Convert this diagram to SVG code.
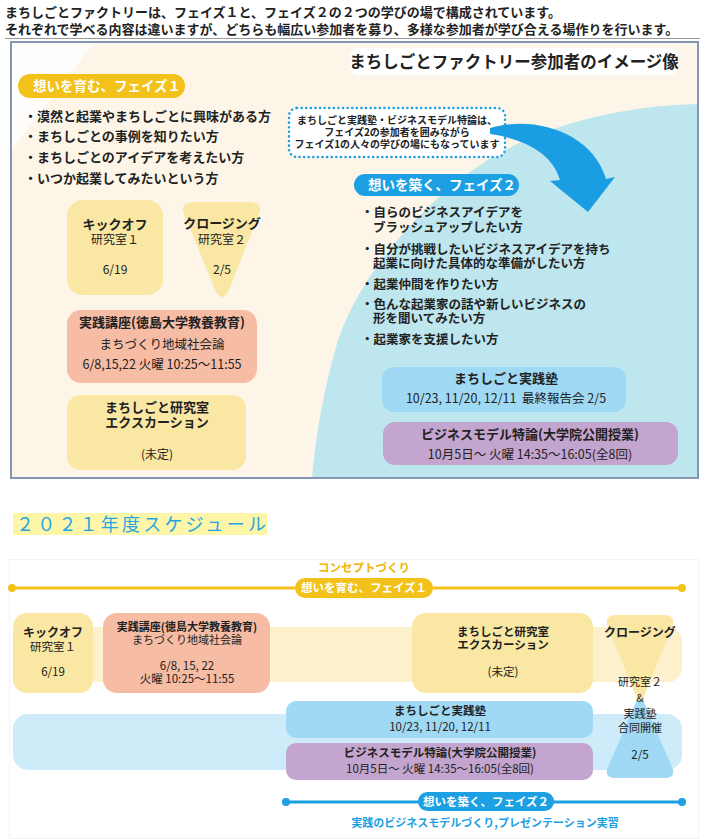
<svg xmlns="http://www.w3.org/2000/svg" width="707" height="839" viewBox="0 0 707 839">
<style>
text{font-family:"Noto Sans CJK JP","Noto Sans",sans-serif;fill:#222}
.b{font-weight:bold}
.c{text-anchor:middle}
.w{fill:#fff;font-weight:bold}
.yb{fill:#f9e7a3}
.rb{fill:#f6bca4}
.lb{fill:#9fd9f4}
.pb{fill:#c3a5cf}
</style>
<rect width="707" height="839" fill="#fff"/>
<g id="intro">
<text x="5" y="17" font-size="13" class="b">まちしごとファクトリーは、フェイズ１と、フェイズ２の２つの学びの場で構成されています。</text>
<text x="5" y="34" font-size="13" class="b">それぞれで学べる内容は違いますが、どちらも幅広い参加者を募り、多様な参加者が学び合える場作りを行います。</text>
<line x1="5" y1="38.5" x2="700" y2="38.5" stroke="#999" stroke-width="1"/>
</g>
<g id="panel">
<rect x="11" y="42" width="687" height="436" fill="#fdf6e8"/>
<polygon points="11,42 95,42 11,150" fill="#fff" opacity="0.8"/>
<path d="M698,104 C620,106 540,125 480,165 C420,205 360,275 338,340 C325,385 316,430 312,478 L698,478 Z" fill="#bde6ee"/>
<rect x="11" y="42" width="687" height="436" fill="none" stroke="#8497b0" stroke-width="2"/>
</g>
<g id="title">
<rect x="350" y="48" width="328" height="27" rx="8" fill="#fff"/>
<text x="514" y="68" font-size="16.5" class="b c">まちしごとファクトリー参加者のイメージ像</text>
</g>
<g id="phase1">
<rect x="18" y="74" width="167" height="24" rx="12" fill="#f2c21b"/>
<text x="33" y="91" font-size="13.5" class="w">想いを育む、フェイズ１</text>
<text x="24" y="121" font-size="13" class="b">・漠然と起業やまちしごとに興味がある方</text>
<text x="24" y="141" font-size="13" class="b">・まちしごとの事例を知りたい方</text>
<text x="24" y="162" font-size="13" class="b">・まちしごとのアイデアを考えたい方</text>
<text x="24" y="183" font-size="13" class="b">・いつか起業してみたいという方</text>
</g>
<g id="callout">
<rect x="289" y="108" width="216" height="49" rx="8" fill="#fff" stroke="#1d9fe3" stroke-width="2.5" stroke-dasharray="0.1 4.5" stroke-linecap="round"/>
<text x="397" y="124" font-size="10" class="b c">まちしごと実践塾・ビジネスモデル特論は、</text>
<text x="397" y="136" font-size="10" class="b c">フェイズ2の参加者を囲みながら</text>
<text x="397" y="148" font-size="10" class="b c">フェイズ1の人々の学びの場にもなっています</text>
</g>
<g id="arrow">
<path d="M490,128 C534,115 592,132 606,179 L615,177 L588,212 L550,181 L560,180 C553,156 530,140 490,134 Z" fill="#1a9de2"/>
</g>
<g id="phase2">
<rect x="354" y="174" width="165" height="22" rx="11" fill="#1d9fe3"/>
<text x="368" y="190" font-size="13.5" class="w">想いを築く、フェイズ２</text>
<text x="361" y="217" font-size="12.5" class="b">・自らのビジネスアイデアを</text>
<text x="373" y="232" font-size="12.5" class="b">ブラッシュアップしたい方</text>
<text x="361" y="254" font-size="12.5" class="b">・自分が挑戦したいビジネスアイデアを持ち</text>
<text x="373" y="268" font-size="12.5" class="b">起業に向けた具体的な準備がしたい方</text>
<text x="361" y="289" font-size="12.5" class="b">・起業仲間を作りたい方</text>
<text x="361" y="309" font-size="12.5" class="b">・色んな起業家の話や新しいビジネスの</text>
<text x="373" y="323" font-size="12.5" class="b">形を聞いてみたい方</text>
<text x="361" y="344" font-size="12.5" class="b">・起業家を支援したい方</text>
</g>
<g id="kickoff1">
<rect x="67" y="200" width="96" height="95" rx="16" class="yb"/>
<text x="115" y="229" font-size="13" class="b c">キックオフ</text>
<text x="115" y="244" font-size="12" class="c">研究室１</text>
<text x="115" y="274" font-size="12" class="c">6/19</text>
</g>
<g id="closing1">
<path d="M195,202 L248,202 Q265,202 258,216 L229,290 Q222,304 215,290 L185,216 Q178,202 195,202 Z" class="yb"/>
<text x="222" y="228" font-size="13" class="b c">クロージング</text>
<text x="222" y="244" font-size="12" class="c">研究室２</text>
<text x="222" y="274" font-size="12" class="c">2/5</text>
</g>
<g id="lecture1">
<rect x="67" y="310" width="190" height="73" rx="14" class="rb"/>
<text x="162" y="327" font-size="13" class="b c">実践講座(徳島大学教養教育)</text>
<text x="162" y="349" font-size="12.5" class="c">まちづくり地域社会論</text>
<text x="162" y="369" font-size="12.5" class="c">6/8,15,22 火曜 10:25～11:55</text>
</g>
<g id="excursion1">
<rect x="67" y="395" width="179" height="75" rx="14" class="yb"/>
<text x="157" y="412" font-size="13" class="b c">まちしごと研究室</text>
<text x="157" y="427" font-size="13" class="b c">エクスカーション</text>
<text x="157" y="459" font-size="12" class="c">(未定)</text>
</g>
<g id="juku1">
<rect x="382" y="367" width="244" height="45" rx="12" class="lb"/>
<text x="506" y="383" font-size="13" class="b c">まちしごと実践塾</text>
<text x="506" y="403" font-size="12.5" class="c" xml:space="preserve">10/23, 11/20, 12/11  最終報告会 2/5</text>
</g>
<g id="bizmodel1">
<rect x="383" y="422" width="295" height="43" rx="12" class="pb"/>
<text x="530" y="439" font-size="13" class="b c">ビジネスモデル特論(大学院公開授業)</text>
<text x="530" y="459" font-size="12.5" class="c">10月5日～ 火曜 14:35～16:05(全8回)</text>
</g>
<g id="schedule-title">
<rect x="13" y="513" width="254" height="22" fill="#fdf5a8"/>
<text x="16" y="531" font-size="18" letter-spacing="3.2" style="fill:#1fa6e6">２０２１年度スケジュール</text>
</g>
<g id="schedule-frame">
<rect x="9.5" y="559.5" width="689" height="279" fill="none" stroke="#f3f3f3"/>
<rect x="15" y="627" width="667" height="55" rx="14" fill="#fcf1cc"/>
<rect x="13" y="714" width="669" height="56" rx="15" fill="#cdebf8"/>
</g>
<g id="connectors">
<line x1="12" y1="588" x2="682" y2="588" stroke="#f2c21b" stroke-width="3"/>
<circle cx="12" cy="588" r="4" fill="#f2c21b"/>
<circle cx="682" cy="588" r="4" fill="#f2c21b"/>
<line x1="286" y1="802" x2="682" y2="802" stroke="#1d9fe3" stroke-width="3"/>
<circle cx="286" cy="802" r="4" fill="#1d9fe3"/>
<circle cx="682" cy="802" r="4" fill="#1d9fe3"/>
</g>
<g id="phase1-bar">
<text x="364" y="572" font-size="11.5" class="b c" style="fill:#f0b400">コンセプトづくり</text>
<rect x="295" y="578" width="138" height="20" rx="10" fill="#f2c21b"/>
<text x="364" y="592" font-size="11.5" class="w c">想いを育む、フェイズ１</text>
</g>
<g id="kickoff2">
<rect x="13" y="613" width="80" height="80" rx="14" class="yb"/>
<text x="53" y="637" font-size="12" class="b c">キックオフ</text>
<text x="53" y="651" font-size="11.5" class="c">研究室１</text>
<text x="53" y="676" font-size="11.5" class="c">6/19</text>
</g>
<g id="lecture2">
<rect x="103" y="613" width="167" height="80" rx="14" class="rb"/>
<text x="187" y="631" font-size="11" class="b c">実践講座(徳島大学教養教育)</text>
<text x="187" y="644" font-size="11" class="c">まちづくり地域社会論</text>
<text x="187" y="670" font-size="11.5" class="c">6/8, 15, 22</text>
<text x="187" y="683" font-size="11.5" class="c">火曜 10:25～11:55</text>
</g>
<g id="excursion2">
<rect x="412" y="613" width="181" height="80" rx="14" class="yb"/>
<text x="503" y="636" font-size="11.5" class="b c">まちしごと研究室</text>
<text x="503" y="649" font-size="11.5" class="b c">エクスカーション</text>
<text x="503" y="676" font-size="11.5" class="c">(未定)</text>
</g>
<g id="closing2">
<path d="M637,700 Q640,692 643,700 L672,767 Q677,778 664,778 L616,778 Q603,778 608,767 Z" class="lb"/>
<path d="M617,615 L663,615 Q677,615 672,627 L644,696 Q640,706 636,696 L608,627 Q603,615 617,615 Z" class="yb"/>
<text x="640" y="637" font-size="12" class="b c">クロージング</text>
<text x="640" y="686" font-size="11" class="c">研究室２</text>
<text x="640" y="702" font-size="11" class="c">&amp;</text>
<text x="640" y="718" font-size="11" class="c">実践塾</text>
<text x="640" y="732" font-size="11" class="c">合同開催</text>
<text x="640" y="759" font-size="11.5" class="c">2/5</text>
</g>
<g id="juku2">
<rect x="286" y="701" width="307" height="37" rx="10" class="lb"/>
<text x="440" y="715" font-size="11.5" class="b c">まちしごと実践塾</text>
<text x="440" y="731" font-size="11.5" class="c">10/23, 11/20, 12/11</text>
</g>
<g id="bizmodel2">
<rect x="286" y="743" width="307" height="37" rx="10" class="pb"/>
<text x="440" y="757" font-size="11.5" class="b c">ビジネスモデル特論(大学院公開授業)</text>
<text x="440" y="773" font-size="11.5" class="c">10月5日～ 火曜 14:35～16:05(全8回)</text>
</g>
<g id="phase2-bar">
<rect x="418" y="792" width="136" height="19" rx="9.5" fill="#1d9fe3"/>
<text x="486" y="806" font-size="11.5" class="w c">想いを築く、フェイズ２</text>
<text x="485" y="827" font-size="11" class="b c" style="fill:#1d9fe3">実践のビジネスモデルづくり,プレゼンテーション実習</text>
</g>
</svg>
